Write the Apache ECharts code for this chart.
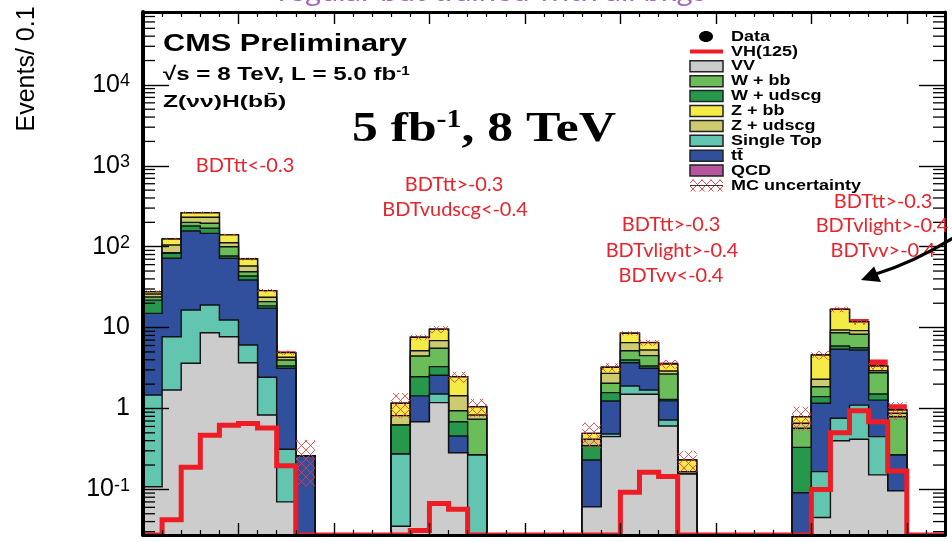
<!DOCTYPE html>
<html>
<head>
<meta charset="utf-8">
<script src="https://cdn.jsdelivr.net/npm/echarts@6/dist/echarts.min.js"></script>
<style>
  html, body { margin: 0; padding: 0; background: #ffffff; }
  #chart { width: 952px; height: 542px; }
</style>
</head>
<body>
<div id="chart"></div>
<script>
// 42 BDT-output bins (0.1 wide); four BDT regions separated by empty bins
const nBins = 42;
const regions = [[0, 8], [13, 17], [23, 28], [34, 39]];

// Expected yields per bin (events / 0.1)
const vv        = [0.108, 1.69, 3.62, 8.65, 7.72, 3.68, 0.83, 0.070, 0,  0, 0, 0, 0,
                   0.035, 0.687, 1.18, 0.284, 0,  0, 0, 0, 0, 0,
                   0.061, 0.449, 1.50, 1.50, 0.608, 0.155,  0, 0, 0, 0, 0,
                   0, 0.045, 0.40, 0.416, 0.151, 0.096,  0, 0];
const singleTop = [1.36, 6.0, 12.9, 10.35, 4.7, 2.41, 1.6, 0.243, 0,  0, 0, 0, 0,
                   0.239, 0, 0.33, 0, 0.266,  0, 0, 0, 0, 0,
                   0, 0.035, 0.40, 0.19, 0.113, 0,  0, 0, 0, 0, 0,
                   0, 0.121, 0.357, 0.684, 0.298, 0,  0, 0];
const ttbar     = [13.5, 64.2, 139.5, 127, 59.6, 32.7, 14.9, 2.83, 0.259,  0, 0, 0, 0,
                   0, 0.743, 1.06, 0.173, 0,  0, 0, 0, 0, 0,
                   0.17, 0.756, 1.78, 1.45, 0.52, 0,  0, 0, 0, 0, 0,
                   0.091, 0.994, 4.63, 4.19, 0.821, 0.17,  0, 0];
const wudscg    = [6.9, 11.0, 24, 23, 4.7, 4.6, 1.2, 0.21, 0,  0, 0, 0, 0,
                   0.351, 1.04, 0.72, 0.23, 0,  0, 0, 0, 0, 0,
                   0.116, 0.33, 0.30, 0.21, 0.05, 0,  0, 0, 0, 0, 0,
                   0.24, 0.24, 0.54, 0.35, 0.24, 0,  0, 0];
const wbb       = [2.0, 1.1, 20, 26, 23.3, 5.7, 2.4, 0.63, 0,  0, 0, 0, 0,
                   0, 1.99, 2.26, 0.252, 0.469,  0, 0, 0, 0, 0,
                   0, 0.48, 1.2, 1.15, 1.38, 0,  0, 0, 0, 0, 0,
                   0.238, 0.46, 2.72, 2.62, 1.26, 0.526,  0, 0];
const zudscg    = [2.1, 21, 31, 36, 12, 8.6, 2.8, 0.31, 0,  0, 0, 0, 0,
                   0.19, 0.72, 1.34, 0.50, 0.096,  0, 0, 0, 0, 0,
                   0.069, 0.67, 1.33, 0.79, 0.24, 0.01,  0, 0, 0, 0, 0,
                   0.087, 0.44, 0.69, 0.9, 0.16, 0.08,  0, 0];
const zbb       = [1.8, 19.5, 32, 32, 28, 12.8, 4.9, 0.61, 0,  0, 0, 0, 0,
                   0.345, 2.41, 2.64, 1.03, 0.22,  0, 0, 0, 0, 0,
                   0.077, 0.51, 1.99, 1.22, 0.64, 0.066,  0, 0, 0, 0, 0,
                   0.136, 2.28, 7.46, 2.64, 0.42, 0.086,  0, 0];
const qcd       = [0, 0, 0, 0, 0, 0, 0, 0, 0,  0, 0, 0, 0,
                   0, 0, 0, 0, 0,  0, 0, 0, 0, 0,
                   0, 0, 0, 0, 0, 0,  0, 0, 0, 0, 0,
                   0, 0, 0, 0, 0, 0,  0, 0];
const vh125     = [0, 0.042, 0.188, 0.467, 0.62, 0.65, 0.574, 0.196, 0,  0, 0, 0, 0,
                   0, 0.031, 0.067, 0.057, 0,  0, 0, 0, 0, 0,
                   0, 0, 0.092, 0.163, 0.144, 0,  0, 0, 0, 0, 0,
                   0, 0.10, 0.502, 0.939, 0.687, 0.169,  0, 0];
// relative MC statistical uncertainty on the background sum
const mcUnc     = [0.04, 0.03, 0.03, 0.03, 0.03, 0.04, 0.05, 0.06, 0.58,  0, 0, 0, 0,
                   0.34, 0.08, 0.10, 0.15, 0.25,  0, 0, 0, 0, 0,
                   0.35, 0.12, 0.06, 0.08, 0.12, 0.30,  0, 0, 0, 0, 0,
                   0.33, 0.12, 0.08, 0.08, 0.10, 0.25,  0, 0];
// observed data (blinded in this view)
const dataObs   = [];

// y-axis decades carrying a label
const yLabelExponents = [-1, 0, 1, 2, 3, 4];

const YMIN = 0.0273, YMAX = 79600;
const RED = '#ee1c25';

// stack, bottom to top
const stack = [
  { name: 'VV',         values: vv,        color: '#cccccc' },
  { name: 'Single Top', values: singleTop, color: '#62c5b0' },
  { name: 'tt\u0304',   values: ttbar,     color: '#30509e' },
  { name: 'W + udscg',  values: wudscg,    color: '#26984b' },
  { name: 'W + bb',     values: wbb,       color: '#6abd58' },
  { name: 'Z + udscg',  values: zudscg,    color: '#cdcb6f' },
  { name: 'Z + bb',     values: zbb,       color: '#f4eb47' },
  { name: 'QCD',        values: qcd,       color: '#b9549f' },
  { name: 'VH(125)',    values: vh125,     color: RED }
];
const legendOrder = ['Data', 'VH(125)', 'VV', 'W + bb', 'W + udscg', 'Z + bb', 'Z + udscg',
                     'Single Top', 'tt\u0304', 'QCD', 'MC uncertainty'];

// cumulative sums per layer
const cumul = [];
stack.forEach((layer, k) => {
  cumul.push(layer.values.map((v, i) => v + (k ? cumul[k - 1][i] : 0)));
});
const bkgTotal = cumul[stack.length - 2];

const clampY = v => Math.max(v, YMIN);

function layerSeries(k) {
  const layer = stack[k];
  const cum = cumul[k];
  const isSignal = layer.name === 'VH(125)';
  return {
    type: 'custom', name: layer.name, clip: true,
    xAxisIndex: 0, yAxisIndex: 0,
    encode: { x: [0, 1], y: 2 },
    data: regions.map(r => [r[0], r[1] + 1, 1]),
    renderItem: (params, api) => {
      const a = api.value(0), b = api.value(1);
      const pts = [api.coord([a, YMIN])];
      for (let i = a; i < b; i++) {
        const v = clampY(cum[i]);
        pts.push(api.coord([i, v]), api.coord([i + 1, v]));
      }
      pts.push(api.coord([b, YMIN]));
      return {
        type: 'polygon', shape: { points: pts },
        style: isSignal ? { fill: layer.color } : { fill: layer.color, stroke: '#111', lineWidth: 1.4 }
      };
    }
  };
}

function hatchLines(x0, y0, x1, y1, s) {
  const out = [];
  for (let c = Math.floor((y0 - x1) / s) * s; c <= y1 - x0; c += s) {
    const xa = Math.max(x0, y0 - c), xb = Math.min(x1, y1 - c);
    if (xb > xa) out.push([xa, xa + c, xb, xb + c]);
  }
  for (let c = Math.floor((x0 + y0) / s) * s; c <= x1 + y1; c += s) {
    const xa = Math.max(x0, c - y1), xb = Math.min(x1, c - y0);
    if (xb > xa) out.push([xa, c - xa, xb, c - xb]);
  }
  return out;
}
function hatchGroup(x0, y0, x1, y1, color) {
  return hatchLines(x0, y0, x1, y1, 9).map(l => ({
    type: 'line', shape: { x1: l[0], y1: l[1], x2: l[2], y2: l[3] },
    style: { stroke: color, lineWidth: 1 }
  }));
}

const series = [];
for (let k = stack.length - 1; k >= 0; k--) series.push(layerSeries(k));

// MC uncertainty band
series.push({
  type: 'custom', name: 'MC uncertainty', clip: true,
  encode: { x: 0, y: 1 },
  data: bkgTotal.map((t, i) => [i, t > 0 ? t : 1]).filter((d, i) => bkgTotal[i] > 0),
  renderItem: (params, api) => {
    const i = api.value(0);
    const t = bkgTotal[i], e = mcUnc[i];
    const p1 = api.coord([i, t * (1 + e)]);
    const p2 = api.coord([i + 1, clampY(t * (1 - e))]);
    return { type: 'group', children: hatchGroup(p1[0], p1[1], p2[0], p2[1], 'rgba(236,58,58,0.85)') };
  }
});

// VH(125) signal shape
series.push({
  type: 'custom', name: 'VH(125) line', clip: true,
  encode: { x: [0, 1], y: 2 },
  data: [[0, nBins, 1]],
  renderItem: (params, api) => {
    const pts = [];
    for (let i = 0; i < nBins; i++) {
      const v = clampY(vh125[i]);
      pts.push(api.coord([i, v]), api.coord([i + 1, v]));
    }
    return { type: 'polyline', shape: { points: pts },
             style: { stroke: RED, lineWidth: 5, fill: null, lineJoin: 'miter' } };
  }
});

// observed data points (none shown)
series.push({ type: 'scatter', name: 'Data', data: dataObs, symbolSize: 8, itemStyle: { color: '#000' } });

// logarithmic minor ticks on both vertical frame edges
const minorVals = [];
for (let e = -2; e <= 4; e++) for (let m = 2; m <= 9; m++) {
  const v = m * Math.pow(10, e);
  if (v > YMIN && v < YMAX) minorVals.push(v);
}
series.push({
  type: 'custom', name: 'minor ticks', clip: false, z: 10,
  encode: { x: 0, y: 1 },
  data: minorVals.map(v => [0, v]),
  renderItem: (params, api) => {
    const v = api.value(1);
    const l = api.coord([0, v]), r = api.coord([nBins, v]);
    return { type: 'group', children: [
      { type: 'line', shape: { x1: l[0], y1: l[1], x2: l[0] + 12, y2: l[1] }, style: { stroke: '#000', lineWidth: 1.3 } },
      { type: 'line', shape: { x1: r[0], y1: r[1], x2: r[0] - 12, y2: r[1] }, style: { stroke: '#000', lineWidth: 1.3 } }
    ] };
  }
});

function yLabel(v) {
  const lg = Math.log10(v);
  const e = Math.round(lg);
  if (Math.abs(lg - e) > 1e-6 || yLabelExponents.indexOf(e) < 0) return '';
  if (e === 0) return '{b|1}';
  if (e === 1) return '{b|10}';
  return '{b|10}{s|' + e + '}';
}

const xAxes = ['bottom', 'top'].map(pos => ({
  type: 'value', min: 0, max: nBins, interval: 5, position: pos, z: 10,
  axisLine: { show: true, onZero: false, lineStyle: { color: '#000', width: 3 } },
  axisTick: { show: true, inside: true, length: 12, lineStyle: { color: '#000', width: 1.4 } },
  minorTick: { show: true, splitNumber: 5, length: 5, lineStyle: { color: '#000', width: 1.2 } },
  axisLabel: { show: false }, splitLine: { show: false }, minorSplitLine: { show: false }
}));
const yAxes = ['left', 'right'].map(pos => ({
  type: 'log', logBase: 10, min: YMIN, max: YMAX, position: pos, z: 10,
  axisLine: { show: true, onZero: false, lineStyle: { color: '#000', width: pos === 'left' ? 4 : 3 } },
  axisTick: { show: true, inside: true, length: 26, lineStyle: { color: '#000', width: 1.4 } },
  splitLine: { show: false },
  axisLabel: pos === 'left' ? {
    show: true, margin: 13, showMinLabel: false, showMaxLabel: false,
    formatter: yLabel,
    rich: {
      b: { fontFamily: 'Liberation Sans', fontSize: 25, color: '#000', verticalAlign: 'bottom', lineHeight: 25 },
      s: { fontFamily: 'Liberation Sans', fontSize: 18, color: '#000', verticalAlign: 'top', lineHeight: 18, padding: [0, 0, 13, 0] }
    }
  } : { show: false }
}));

// ---- decorations: texts, legend, arrow ----
const graphics = [];
function txt(text, x, y, opt) {
  graphics.push(Object.assign({
    type: 'text', x: x, y: y, z: 30, scaleX: opt.scaleX || 1, rotation: opt.rotation || 0,
    style: Object.assign({
      text: text, fill: opt.fill || '#000', fontFamily: opt.family || 'Liberation Sans',
      fontSize: opt.size, fontWeight: opt.weight || 'normal',
      textAlign: opt.align || 'left', textVerticalAlign: 'middle'
    }, opt.rich ? { rich: opt.rich } : {})
  }));
}

txt('regular bdt trained with all bkgs', 278, -7, { size: 26, family: 'Lato', fill: '#a767bb', scaleX: 1.19 });
txt('Events/ 0.1', 27, 69, { size: 25, align: 'center', rotation: Math.PI / 2 });

txt('CMS Preliminary', 163, 44.5, { size: 24, weight: 'bold', scaleX: 1.28 });
txt('{m|\u221As = 8 TeV, L = 5.0 fb}{u|-1}', 163, 75, { size: 19, weight: 'bold', scaleX: 1.27, rich: {
  m: { fontFamily: 'Liberation Sans', fontWeight: 'bold', fontSize: 19, verticalAlign: 'bottom', lineHeight: 19 },
  u: { fontFamily: 'Liberation Sans', fontWeight: 'bold', fontSize: 12, verticalAlign: 'top', lineHeight: 12, padding: [0, 0, 9, 0] }
} });
txt('Z(\u03BD\u03BD)H(bb\u0304)', 163, 102.5, { size: 17, weight: 'bold', scaleX: 1.45 });
txt('{m|5 fb}{u|-1}{m|, 8 TeV}', 352, 129.5, { size: 43, scaleX: 1.2, rich: {
  m: { fontFamily: 'Liberation Serif', fontWeight: 'bold', fontSize: 43, verticalAlign: 'bottom', lineHeight: 43 },
  u: { fontFamily: 'Liberation Serif', fontWeight: 'bold', fontSize: 25, verticalAlign: 'top', lineHeight: 25, padding: [0, 0, 22, 0] }
} });

// region selections
const cutLabels = [
  ['BDTtt<-0.3', 245, 166],
  ['BDTtt>-0.3', 454, 185], ['BDTvudscg<-0.4', 455, 210],
  ['BDTtt>-0.3', 671, 225], ['BDTvlight>-0.4', 672, 251], ['BDTvv<-0.4', 671, 276],
  ['BDTtt>-0.3', 883, 202], ['BDTvlight>-0.4', 882, 226], ['BDTvv>-0.4', 883, 251]
];
cutLabels.forEach(c => txt(c[0], c[1], c[2], { size: 19, family: 'Lato', fill: '#e8232b', align: 'center', scaleX: 1.05 }));

// legend
const colorOf = {};
stack.forEach(l => { colorOf[l.name] = l.color; });
legendOrder.forEach((name, k) => {
  const cy = 36.5 + 14.9 * k;
  if (name === 'Data') {
    graphics.push({ type: 'ellipse', z: 30, shape: { cx: 706, cy: cy, rx: 7, ry: 5.5 }, style: { fill: '#000' } });
  } else if (name === 'VH(125)') {
    graphics.push({ type: 'line', z: 30, shape: { x1: 690, y1: cy, x2: 723, y2: cy }, style: { stroke: RED, lineWidth: 4 } });
  } else if (name === 'MC uncertainty') {
    hatchGroup(690, cy - 6, 723, cy + 6, 'rgba(236,58,58,0.9)').forEach(g => { g.z = 30; graphics.push(g); });
    graphics.push({ type: 'line', z: 31, shape: { x1: 690, y1: cy, x2: 723, y2: cy }, style: { stroke: '#333', lineWidth: 1 } });
  } else {
    graphics.push({ type: 'rect', z: 30, shape: { x: 690, y: cy - 5.5, width: 33, height: 11 },
                    style: { fill: colorOf[name], stroke: '#222', lineWidth: 1.5 } });
  }
  txt(name, 731, cy, { size: 15, weight: 'bold', scaleX: 1.2 });
});

// arrow pointing at the last region
graphics.push({ type: 'bezierCurve', z: 30,
  shape: { x1: 953, y1: 238, cpx1: 914.5, cpy1: 262, x2: 876, y2: 274 },
  style: { stroke: '#000', lineWidth: 3, fill: null } });
graphics.push({ type: 'polygon', z: 30,
  shape: { points: [[861, 280], [874, 266.5], [881, 282]] },
  style: { fill: '#000' } });

const chart = echarts.init(document.getElementById('chart'), null, { renderer: 'canvas' });
chart.setOption({
  animation: false,
  backgroundColor: '#ffffff',
  grid: { left: 143, top: 12, width: 802, height: 523, show: false },
  xAxis: xAxes,
  yAxis: yAxes,
  series: series,
  graphic: graphics
});
</script>
</body>
</html>
